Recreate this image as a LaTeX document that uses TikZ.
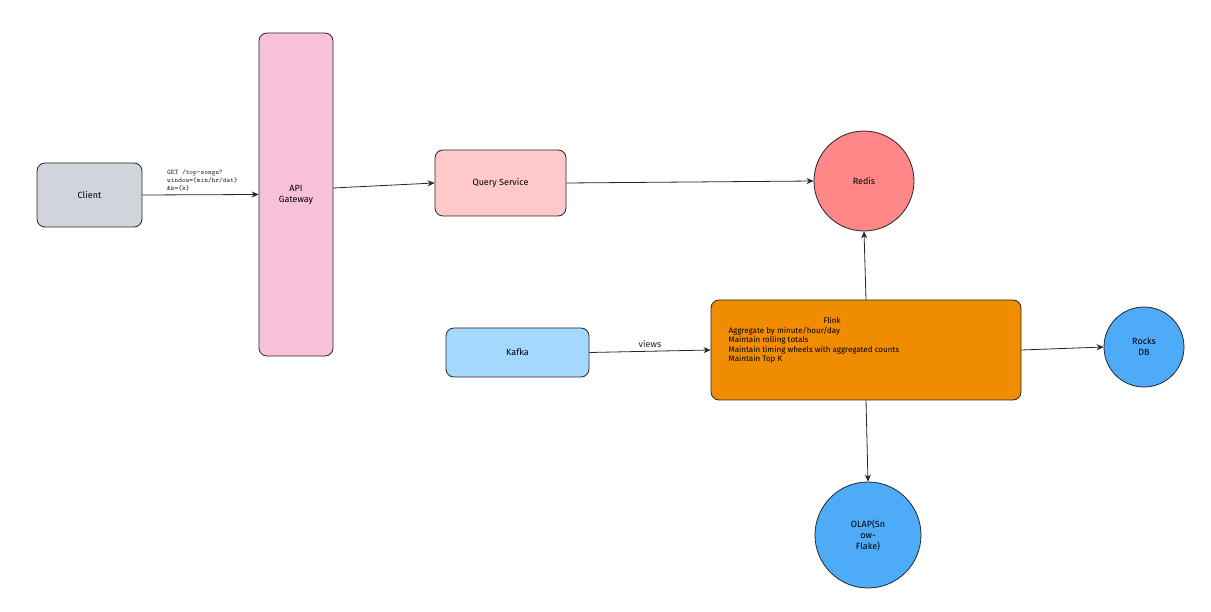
\documentclass[tikz,border=0pt]{standalone}
\usepackage{fontspec}
\setmainfont{Fira Sans}
\usetikzlibrary{arrows.meta}
\definecolor{cgray}{HTML}{D1D5DB}
\definecolor{cpink}{HTML}{F9C0DA}
\definecolor{cqs}{HTML}{FFC9C9}
\definecolor{cred}{HTML}{FF8787}
\definecolor{cblue}{HTML}{A5D8FF}
\definecolor{corange}{HTML}{F08C00}
\definecolor{cdb}{HTML}{4DABF7}
\tikzset{
  box/.style={draw=black!85, line width=0.8pt, rounded corners=8pt, inner sep=0pt, font=\small},
  db/.style={draw=black!85, line width=0.8pt, circle, inner sep=0pt, align=center, font=\small},
  arr/.style={-{Stealth[length=7pt,width=6pt]}, line width=0.8pt, black!85}
}
\begin{document}
\begin{tikzpicture}[x=1pt,y=-1pt]
\useasboundingbox (0,0) rectangle (1211,612);
\node[box, fill=cgray, minimum width=105, minimum height=64] (client) at (89.5,195) {Client};
\node[box, fill=cpink, minimum width=74, minimum height=323, align=center] (gw) at (296,194.5) {API\\Gateway};
\node[box, fill=cqs, minimum width=131, minimum height=66] (qs) at (500.5,183) {Query Service};
\node[db, fill=cred, minimum size=100] (redis) at (864,181) {Redis};
\node[box, fill=cblue, minimum width=143, minimum height=49] (kafka) at (517.5,352.5) {Kafka};
\node[box, fill=corange, minimum width=310, minimum height=100] (flink) at (866,350) {};
\node[font=\footnotesize, align=left, anchor=north west] (ft) at (725,314) {\hspace*{95pt}Flink\\Aggregate by minute/hour/day\\Maintain rolling totals\\Maintain timing wheels with aggregated counts\\Maintain Top K};
\node[db, fill=cdb, minimum size=80] (rocks) at (1144,347) {Rocks\\DB};
\node[db, fill=cdb, minimum size=106] (olap) at (868,535) {OLAP(Sn\\ow-\\Flake)};
\draw[arr] (client.east) -- node[above, font=\scriptsize\ttfamily, align=left, xshift=2pt] {GET /top-songs?\\window=\{min/hr/dat\}\\\&k=\{k\}} (gw.west);
\draw[arr] (333,188) -- (qs.west);
\draw[arr] (qs.east) -- (redis.west);
\draw[arr] (flink.north) -- (redis.south);
\draw[arr] (kafka.east) -- node[above, font=\small]{views} (flink.west);
\draw[arr] (flink.east) -- (rocks.west);
\draw[arr] (flink.south) -- (olap.north);
\end{tikzpicture}
\end{document}
